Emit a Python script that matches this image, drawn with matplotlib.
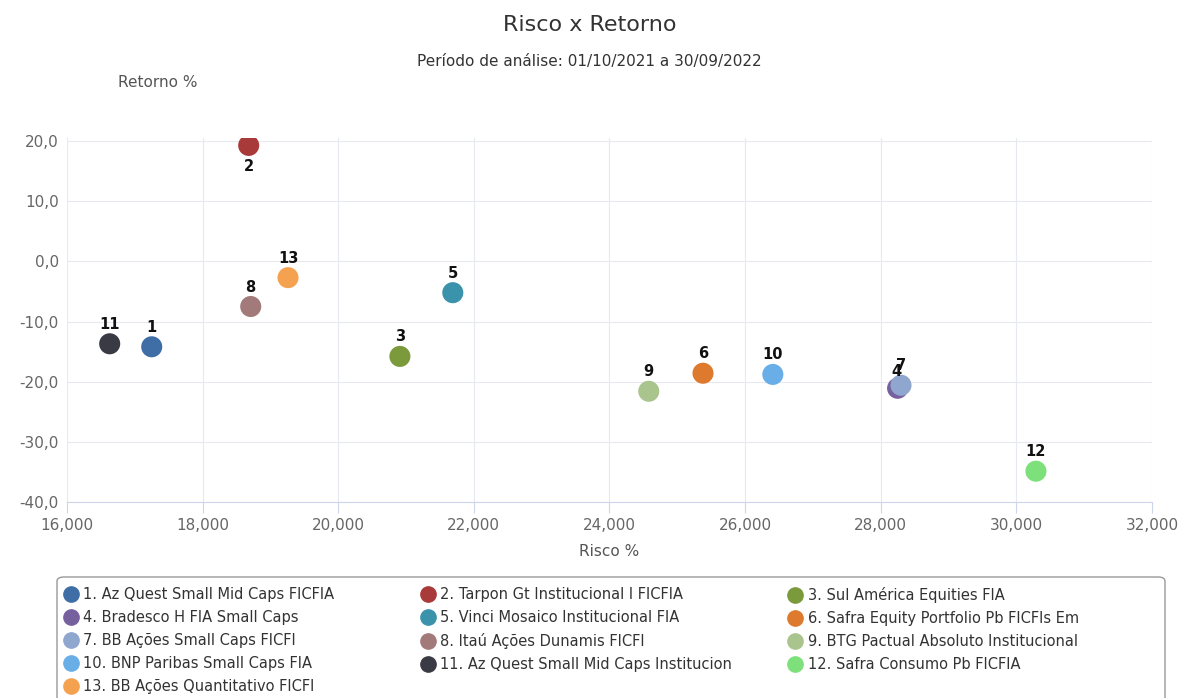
import matplotlib.pyplot as plt
from matplotlib.lines import Line2D
from matplotlib.patches import FancyBboxPatch
from matplotlib.ticker import FuncFormatter

fundos = ['Az Quest Small Mid Caps FICFIA',
          'Tarpon Gt Institucional I FICFIA',
          'Sul América Equities FIA',
          'Bradesco H FIA Small Caps',
          'Vinci Mosaico Institucional FIA',
          'Safra Equity Portfolio Pb FICFIs Em',
          'BB Ações Small Caps FICFI',
          'Itaú Ações Dunamis FICFI',
          'BTG Pactual Absoluto Institucional',
          'BNP Paribas Small Caps FIA',
          'Az Quest Small Mid Caps Institucion',
          'Safra Consumo Pb FICFIA',
          'BB Ações Quantitativo FICFI']
risco = [17250, 18680, 20910, 28250, 21690, 25380, 28300, 18710, 24580, 26410, 16630, 30290, 19260]
retorno = [-14.2, 19.3, -15.8, -21.1, -5.2, -18.6, -20.6, -7.5, -21.6, -18.8, -13.7, -34.9, -2.7]
cores = ['#3f6ea7', '#a83b3a', '#7a9a3c', '#76609e', '#3a93ab', '#de7a2e', '#8fa6cf',
         '#a37a7a', '#a9c48d', '#6aaee8', '#3a3a44', '#7ee07a', '#f5a250']

fig = plt.figure(figsize=(11.79, 6.98), dpi=100)
ax = fig.add_axes([0.0568, 0.281, 0.9202, 0.521])

for i in range(len(fundos)):
    ax.scatter(risco[i], retorno[i], s=230, color=cores[i], zorder=3, edgecolors='none')
    if i == 1:
        off = (0, -15)
    elif i == 3:
        off = (-1, 12)
    else:
        off = (0, 14)
    ax.annotate(str(i + 1), (risco[i], retorno[i]), xytext=off, textcoords='offset points',
                ha='center', va='center', fontsize=10.5, fontweight='bold', color='#111111',
                zorder=4)

ax.set_xlim(16000, 32000)
ax.set_ylim(-40, 20.5)
ax.set_xticks(range(16000, 32001, 2000))
ax.set_yticks(range(-40, 21, 10))
ax.xaxis.set_major_formatter(FuncFormatter(lambda v, p: f'{int(v) // 1000},000'))
ax.yaxis.set_major_formatter(FuncFormatter(lambda v, p: f'{v:.1f}'.replace('.', ',')))
ax.grid(True, color='#e6e9f0', linewidth=0.8)
ax.set_axisbelow(True)
for s in ['top', 'right', 'left']:
    ax.spines[s].set_visible(False)
ax.spines['bottom'].set_color('#ccd6eb')
ax.tick_params(axis='x', colors='#ccd6eb', length=8, labelcolor='#666666', labelsize=11)
ax.tick_params(axis='y', length=0, labelcolor='#666666', labelsize=11, pad=6)
ax.set_xlabel('Risco %', fontsize=11, color='#555555', labelpad=8)

fig.text(0.5, 0.964, 'Risco x Retorno', ha='center', va='center', fontsize=16, color='#333333')
fig.text(0.5, 0.912, 'Período de análise: 01/10/2021 a 30/09/2022', ha='center', va='center',
         fontsize=11, color='#333333')
fig.text(0.134, 0.882, 'Retorno %', ha='center', va='center', fontsize=11, color='#555555')

# caixa da legenda (cortada na base, como no original)
fig.add_artist(FancyBboxPatch((57 / 1179, -0.05), 1108 / 1179, 1.05 - 577 / 698,
                              boxstyle='round,pad=0,rounding_size=0.006',
                              transform=fig.transFigure, facecolor='white',
                              edgecolor='#999999', linewidth=1.0, zorder=0))

colunas_x = [53 / 1179, 410 / 1179, 778 / 1179]
for c in range(3):
    idx = list(range(c, len(fundos), 3))
    hs = [Line2D([], [], marker='o', linestyle='none', markersize=11, color=cores[i])
          for i in idx]
    labs = [f'{i + 1}. {fundos[i]}' for i in idx]
    leg = fig.legend(hs, labs, loc='upper left', bbox_to_anchor=(colunas_x[c], 1 - 577 / 698),
                     fontsize=10.5, frameon=False, handletextpad=0.35, labelspacing=0.55,
                     borderpad=0.2, handlelength=1.0)
    for t in leg.get_texts():
        t.set_color('#333333')

fig.savefig('out.png', dpi=100)
